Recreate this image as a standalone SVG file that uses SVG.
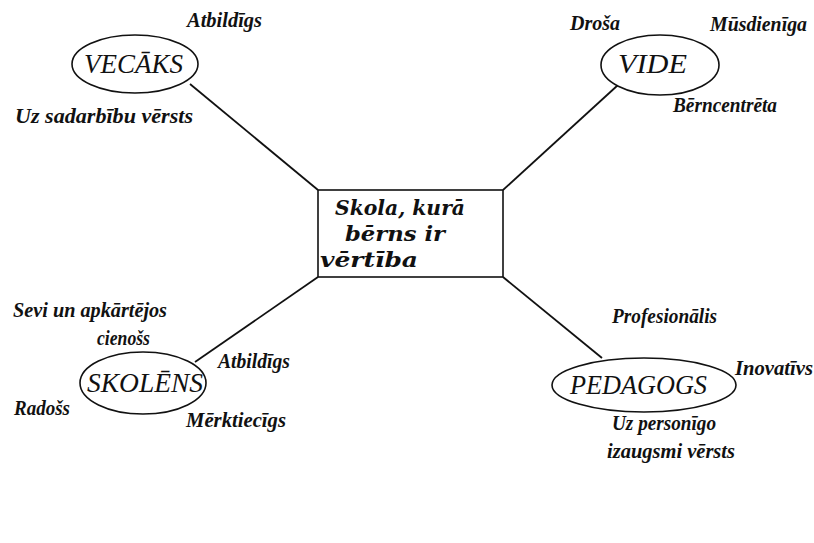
<svg xmlns="http://www.w3.org/2000/svg" width="814" height="543" viewBox="0 0 814 543">
<style>
.node{fill:#fff;stroke:#111;stroke-width:1.6}
.conn{stroke:#111;stroke-width:1.8;fill:none}
.nt{font-family:"Liberation Serif",serif;font-style:italic;font-size:27px;fill:#111}
.lb{font-family:"Liberation Serif",serif;font-style:italic;font-weight:bold;font-size:20px;fill:#111}
.ct{font-family:"DejaVu Serif",serif;font-style:italic;font-weight:bold;font-size:20px;fill:#111}
</style>
<rect width="814" height="543" fill="#fff"/>
<g id="connectors">
<line class="conn" x1="190" y1="84" x2="318" y2="190"/>
<line class="conn" x1="618" y1="85" x2="503" y2="190"/>
<line class="conn" x1="195" y1="362" x2="318" y2="277"/>
<line class="conn" x1="602" y1="358" x2="503" y2="277"/>
</g>
<g id="center">
<rect class="node" x="318" y="190" width="185" height="87"/>
<text class="ct" x="335" y="215" textLength="130" lengthAdjust="spacingAndGlyphs">Skola, kurā</text>
<text class="ct" x="345" y="241" textLength="100" lengthAdjust="spacingAndGlyphs">bērns ir</text>
<text class="ct" x="320" y="267" textLength="98" lengthAdjust="spacingAndGlyphs">vērtība</text>
</g>
<g id="vecaks">
<ellipse class="node" cx="135" cy="64" rx="63" ry="29"/>
<text class="nt" x="84" y="73" textLength="99" lengthAdjust="spacingAndGlyphs">VECĀKS</text>
<text class="lb" x="187" y="27" textLength="75" lengthAdjust="spacingAndGlyphs">Atbildīgs</text>
<text class="lb" x="15" y="123" textLength="178" lengthAdjust="spacingAndGlyphs">Uz sadarbību vērsts</text>
</g>
<g id="vide">
<ellipse class="node" cx="660" cy="65" rx="59" ry="30"/>
<text class="nt" x="618" y="73" textLength="69" lengthAdjust="spacingAndGlyphs">VIDE</text>
<text class="lb" x="570" y="30" textLength="50" lengthAdjust="spacingAndGlyphs">Droša</text>
<text class="lb" x="710" y="31" textLength="97" lengthAdjust="spacingAndGlyphs">Mūsdienīga</text>
<text class="lb" x="673" y="112" textLength="104" lengthAdjust="spacingAndGlyphs">Bērncentrēta</text>
</g>
<g id="skolens">
<ellipse class="node" cx="143" cy="383" rx="63" ry="31"/>
<text class="nt" x="87" y="392" textLength="116" lengthAdjust="spacingAndGlyphs">SKOLĒNS</text>
<text class="lb" x="13" y="317" textLength="154" lengthAdjust="spacingAndGlyphs">Sevi un apkārtējos</text>
<text class="lb" x="97" y="345" textLength="53" lengthAdjust="spacingAndGlyphs">cienošs</text>
<text class="lb" x="218" y="368" textLength="72" lengthAdjust="spacingAndGlyphs">Atbildīgs</text>
<text class="lb" x="14" y="415" textLength="56" lengthAdjust="spacingAndGlyphs">Radošs</text>
<text class="lb" x="186" y="427" textLength="100" lengthAdjust="spacingAndGlyphs">Mērktiecīgs</text>
</g>
<g id="pedagogs">
<ellipse class="node" cx="644" cy="385" rx="92" ry="27"/>
<text class="nt" x="570" y="394" textLength="137" lengthAdjust="spacingAndGlyphs">PEDAGOGS</text>
<text class="lb" x="612" y="323" textLength="105" lengthAdjust="spacingAndGlyphs">Profesionālis</text>
<text class="lb" x="735" y="375" textLength="78" lengthAdjust="spacingAndGlyphs">Inovatīvs</text>
<text class="lb" x="612" y="430" textLength="104" lengthAdjust="spacingAndGlyphs">Uz personīgo</text>
<text class="lb" x="607" y="458" textLength="128" lengthAdjust="spacingAndGlyphs">izaugsmi vērsts</text>
</g>
</svg>
